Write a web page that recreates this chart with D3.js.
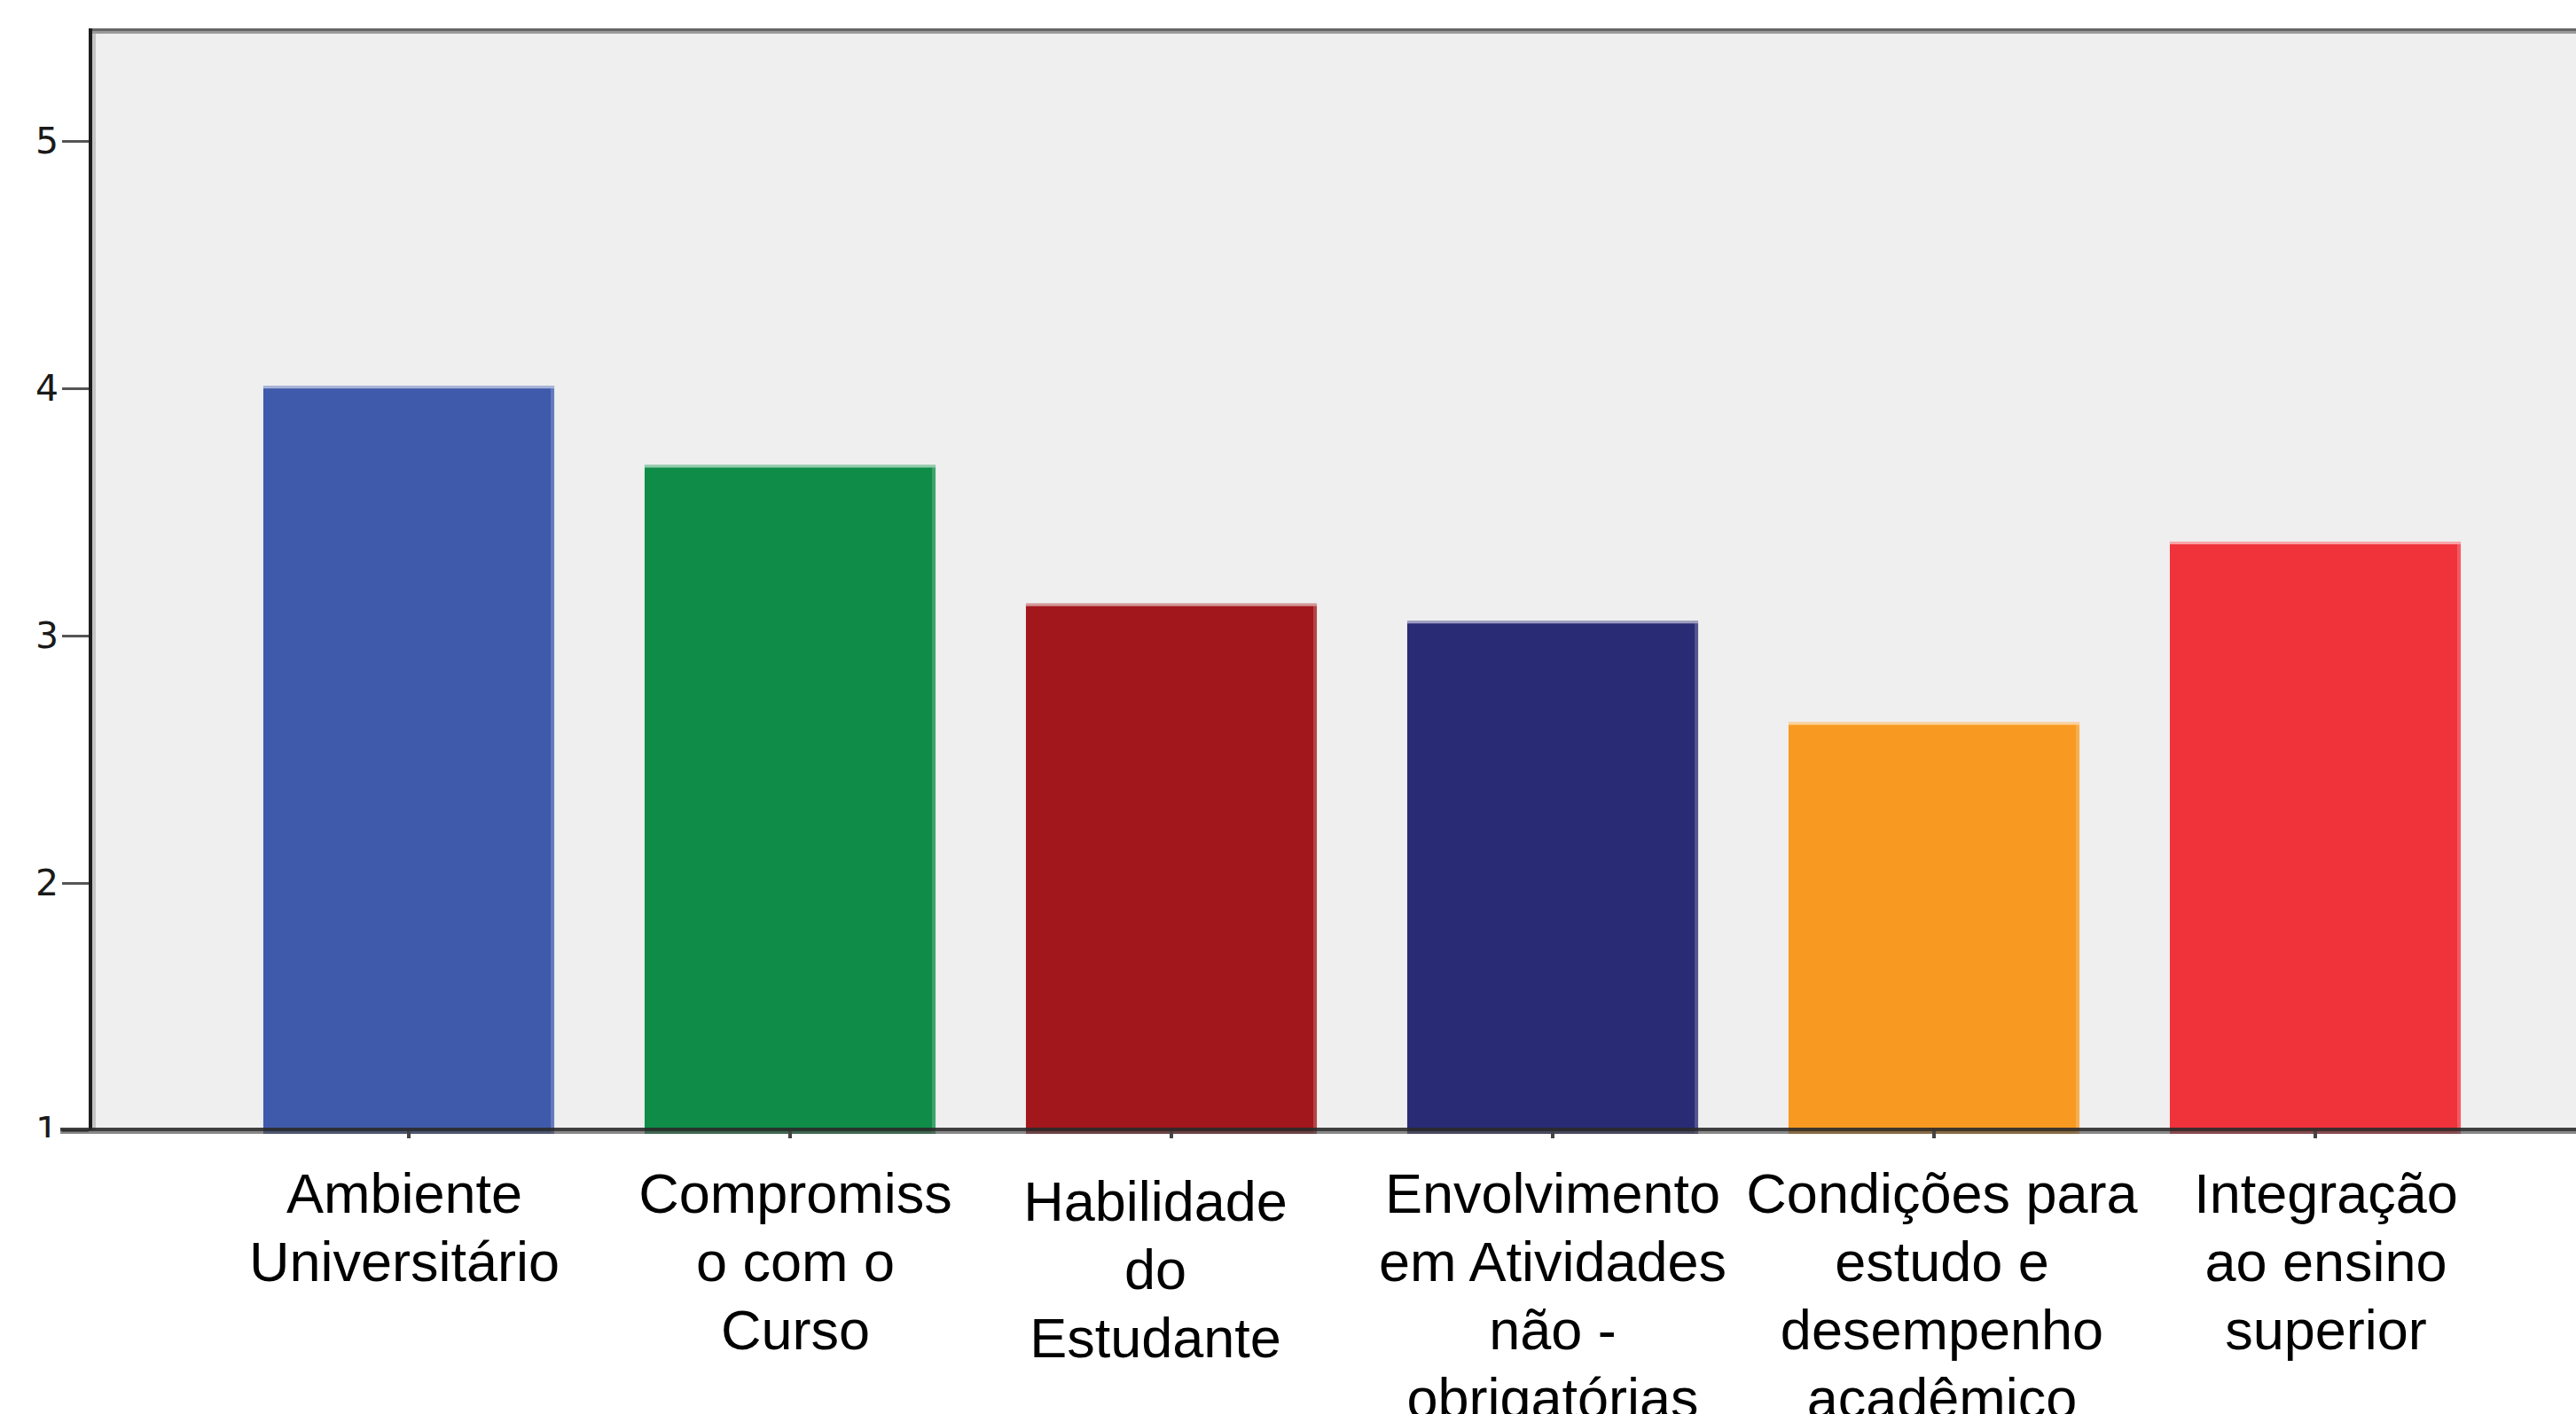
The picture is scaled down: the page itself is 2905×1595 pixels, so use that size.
<!DOCTYPE html>
<html lang="pt">
<head>
    <meta charset="UTF-8">
    <title>Médias por dimensão</title>
    <script src="https://cdn.jsdelivr.net/npm/d3@7"></script>
    <style>
        html, body { margin: 0; padding: 0; background: #fff; overflow: hidden; }
        .ylab { font-family: "DejaVu Sans", sans-serif; font-size: 41px; fill: #1a1a1a; }
        .xlab { font-family: "Liberation Sans", Arial, sans-serif; font-size: 63px; fill: #000; }
    </style>
</head>
<body>
<div id="chart"></div>
<script>
    // Data
    const categories = [
        "Ambiente Universitário",
        "Compromisso com o Curso",
        "Habilidade do Estudante",
        "Envolvimento em Atividades não-obrigatórias",
        "Condições para estudo e desempenho acadêmico",
        "Integração ao ensino superior"
    ];
    // tick labels, wrapped as in the original
    const tickLabels = [
        ["Ambiente", "Universitário"],
        ["Compromiss", "o com o", "Curso"],
        ["Habilidade", "do", "Estudante"],
        ["Envolvimento", "em Atividades", "não -", "obrigatórias"],
        ["Condições para", "estudo e", "desempenho", "acadêmico"],
        ["Integração", "ao ensino", "superior"]
    ];
    const means = [4.01, 3.69, 3.13, 3.06, 2.65, 3.38];
    const yTicks = [1, 2, 3, 4, 5];
    const barColors = ["#3F59AB", "#0F8C47", "#A2171C", "#292B74", "#F89A21", "#F0323B"];

    const W = 2905, H = 1595;
    const plot = { left: 102, top: 35, right: W, bottom: 1275 };
    // the original's label boxes are not exactly centred on the bars
    const labelNudge = [-5, 6, -18, 0, 9, 12];

    const svg = d3.select("#chart").append("svg")
        .attr("width", W)
        .attr("height", H);

    // scales
    const y = d3.scaleLinear()
        .domain([1, 1 + (plot.bottom - plot.top) / 279])
        .range([plot.bottom, plot.top]);

    const x = d3.scaleBand()
        .domain(categories)
        .range([246, 2826])
        .paddingInner(0.237)
        .paddingOuter(0.1185);

    // plot background
    svg.append("rect")
        .attr("x", plot.left)
        .attr("y", plot.top)
        .attr("width", plot.right - plot.left)
        .attr("height", plot.bottom - plot.top)
        .attr("fill", "#EFEFEF");

    // top frame line
    svg.append("rect").attr("x", plot.left - 2).attr("y", 32).attr("width", W).attr("height", 3).attr("fill", "#666");
    svg.append("rect").attr("x", plot.left + 2).attr("y", 35).attr("width", W).attr("height", 3).attr("fill", "#9a9a9a");

    // bars
    const bars = svg.append("g").selectAll("g")
        .data(categories)
        .enter().append("g");

    bars.append("rect")
        .attr("x", d => x(d))
        .attr("y", (d, i) => y(means[i]))
        .attr("width", x.bandwidth())
        .attr("height", (d, i) => y(1) - y(means[i]) + 4)
        .attr("fill", (d, i) => barColors[i]);

    // lighter top and right edges like the original rendering
    bars.append("rect")
        .attr("x", d => x(d))
        .attr("y", (d, i) => y(means[i]))
        .attr("width", x.bandwidth())
        .attr("height", 3)
        .attr("fill", "#fff")
        .attr("opacity", 0.55);

    bars.append("rect")
        .attr("x", d => x(d) + x.bandwidth() - 4)
        .attr("y", (d, i) => y(means[i]) + 3)
        .attr("width", 4)
        .attr("height", (d, i) => y(1) - y(means[i]))
        .attr("fill", "#fff")
        .attr("opacity", 0.2);

    // y axis (the "1" label is half hidden under the x axis in the original)
    svg.append("clipPath").attr("id", "yclip")
        .append("rect").attr("x", -200).attr("y", 0).attr("width", 200).attr("height", 1283);

    const yAxis = svg.append("g")
        .attr("transform", `translate(${plot.left - 2},0)`)
        .attr("clip-path", "url(#yclip)")
        .call(d3.axisLeft(y).tickValues(yTicks).tickSize(30).tickSizeOuter(0).tickPadding(4).tickFormat(d3.format("d")));
    yAxis.select(".domain").remove();
    yAxis.selectAll(".tick line").attr("stroke", "#555").attr("stroke-width", 3);
    yAxis.selectAll(".tick text").attr("class", "ylab").attr("font-family", null).attr("font-size", null);

    // y axis line (dark + light shade)
    svg.append("rect").attr("x", 100).attr("y", 32).attr("width", 4).attr("height", plot.bottom - 32).attr("fill", "#1c1c1c");
    svg.append("rect").attr("x", 104).attr("y", 38).attr("width", 4).attr("height", plot.bottom - 38).attr("fill", "#c4c4c4");

    // x axis line
    svg.append("rect").attr("x", 68).attr("y", plot.bottom - 3).attr("width", W).attr("height", 4).attr("fill", "#2a2a2a").attr("opacity", 0.9);
    svg.append("rect").attr("x", 68).attr("y", plot.bottom + 1).attr("width", W).attr("height", 3).attr("fill", "#555").attr("opacity", 0.7);

    // x axis ticks and labels
    const xAxis = svg.append("g")
        .attr("transform", `translate(0,${plot.bottom + 1})`)
        .call(d3.axisBottom(x).tickSize(8).tickSizeOuter(0).tickFormat(""));
    xAxis.select(".domain").remove();
    xAxis.selectAll(".tick line").attr("stroke", "#444").attr("stroke-width", 4);

    xAxis.selectAll(".tick text").remove();
    xAxis.selectAll(".tick").append("text")
        .attr("class", "xlab")
        .attr("text-anchor", "middle")
        .attr("y", (d, i) => i === 2 ? 101 : 92)
        .each(function (d, i) {
            const t = d3.select(this);
            tickLabels[i].forEach((line, j) => {
                t.append("tspan")
                    .attr("x", labelNudge[i])
                    .attr("dy", j === 0 ? 0 : 77)
                    .text(line);
            });
        });
</script>
</body>
</html>
